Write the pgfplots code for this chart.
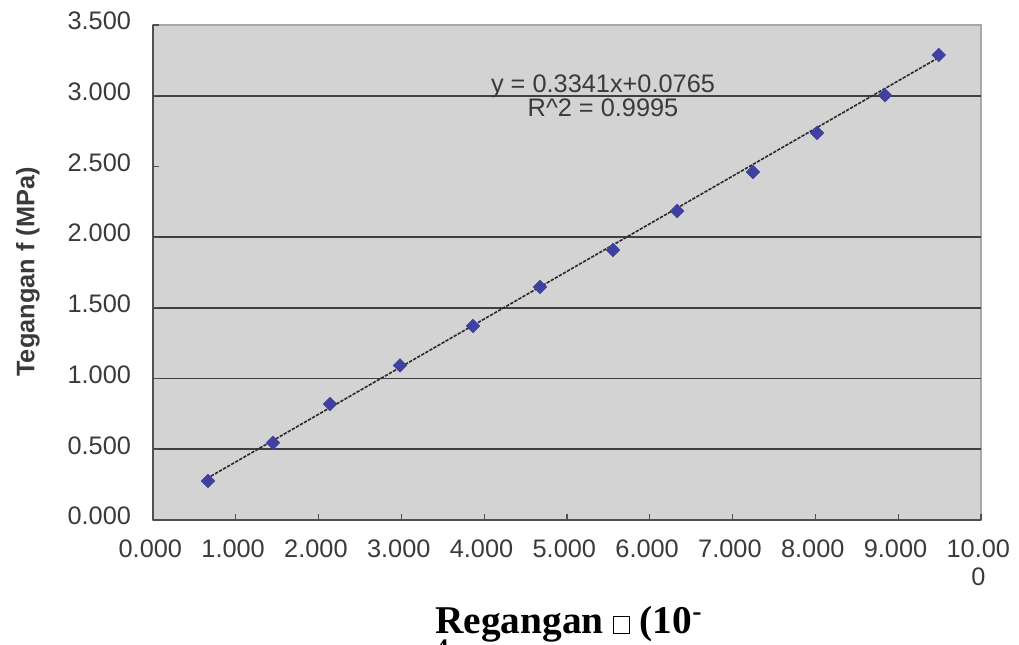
\documentclass[border=0pt]{standalone}
\usepackage{pgfplots}
\pgfplotsset{compat=1.18}
\usepackage{fontspec}
\setmainfont{Liberation Sans}
\newfontfamily\timesfont{Liberation Serif}
\definecolor{plotgray}{HTML}{D3D3D3}
\definecolor{bordergray}{HTML}{A8A8A8}
\definecolor{axisdark}{HTML}{505050}
\definecolor{griddark}{HTML}{404040}
\definecolor{ticktext}{HTML}{3A3A3A}
\definecolor{markblue}{HTML}{4040A0}
\definecolor{trend}{HTML}{2A2A2A}
\begin{document}
\begin{tikzpicture}
\useasboundingbox (-114.75pt,-93pt) rectangle (649.5pt,390pt);
\begin{axis}[
  at={(0pt,0pt)}, anchor=south west,
  scale only axis, width=621pt, height=371.25pt,
  xmin=0, xmax=10, ymin=0, ymax=3.5,
  axis lines=left,
  axis line style={-, draw=axisdark, line width=1pt},
  axis background/.style={fill=plotgray, draw=bordergray, line width=0.8pt},
  tick align=inside,
  major tick length=4.5pt,
  tick style={draw=axisdark, line width=0.8pt},
  xtick={0,1,2,3,4,5,6,7,8,9,10},
  xticklabels={0.000,1.000,2.000,3.000,4.000,5.000,6.000,7.000,8.000,9.000,{10.00\\0}},
  xticklabel style={font=\fontsize{19pt}{21pt}\selectfont, text=ticktext, align=center, yshift=-11.5pt, xshift=-2pt},
  ytick={0.5,1,1.5,2,3},
  yticklabels={0.500,1.000,1.500,2.000,3.000},
  extra y ticks={0,2.5,3.5},
  extra y tick labels={0.000,2.500,3.500},
  extra y tick style={grid=none},
  yticklabel style={font=\fontsize{19pt}{22pt}\selectfont, text=ticktext, xshift=-13pt, yshift=3pt},
  ymajorgrids,
  major grid style={draw=griddark, line width=1.3pt},
  clip=false,
]
\addplot[draw=trend, line width=1.2pt, dash pattern=on 2.5pt off 1pt] coordinates {(0.70,0.31) (9.49,3.27)};
\addplot[only marks, mark=square*, mark size=3.6pt, mark options={rotate=45, fill=markblue, draw=markblue}] coordinates {
(0.664,0.276) (1.449,0.546) (2.138,0.820) (2.983,1.093) (3.865,1.372) (4.674,1.648)
(5.556,1.909) (6.330,2.185) (7.246,2.461) (8.020,2.737) (8.840,3.003) (9.490,3.288)};
\node[anchor=base, font=\fontsize{19pt}{22pt}\selectfont, text=ticktext, inner sep=0pt] at (axis cs:5.435,3.02) {y = 0.3341x+0.0765};
\node[anchor=base, font=\fontsize{19pt}{22pt}\selectfont, text=ticktext, inner sep=0pt] at (axis cs:5.435,2.85) {R\textasciicircum 2 = 0.9995};
\end{axis}
\node[rotate=90, font=\bfseries\fontsize{19pt}{22pt}\selectfont, text=ticktext, inner sep=0pt] at (-93.75pt,186pt) {Tegangan f (MPa)};
\node[anchor=base west, font=\timesfont\bfseries\fontsize{29.5pt}{32pt}\selectfont, inner sep=0pt] at (211.5pt,-84.75pt) {Regangan {\setlength{\fboxsep}{0pt}\setlength{\fboxrule}{0.5pt}\fbox{\rule{0pt}{12pt}\hspace{11.5pt}}} (10\textsuperscript{-}};
\node[anchor=north west, font=\timesfont\bfseries\fontsize{19pt}{22pt}\selectfont, inner sep=0pt] at (212pt,-90pt) {4};
\end{tikzpicture}
\end{document}
